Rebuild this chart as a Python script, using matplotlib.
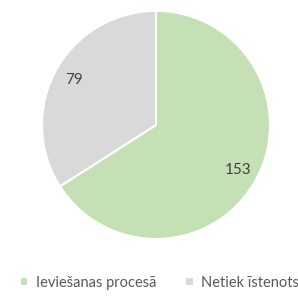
import matplotlib
matplotlib.use("Agg")
import matplotlib.pyplot as plt

# dati
kategorijas = ["Ieviešanas procesā", "Netiek īstenots"]
vertibas = [153, 79]
krasas = ["#C5E0B4", "#D9D9D9"]

plt.rcParams['font.family'] = ['Lato', 'DejaVu Sans']

fig = plt.figure(figsize=(2.98, 3.04), dpi=100)
ax = fig.add_axes([0.141, 0.214, 0.765, 0.75])

kopa = sum(vertibas)
wedges, texts, autotexts = ax.pie(
    vertibas, colors=krasas, startangle=90, counterclock=False,
    autopct=lambda p: "{}".format(int(round(p * kopa / 100))),
    pctdistance=0.82,
    wedgeprops=dict(edgecolor="white", linewidth=1.5),
    textprops=dict(color="#404040", fontsize=11))
ax.set_xlim(-1, 1)
ax.set_ylim(-1, 1)
ax.set_aspect("equal")

fig.legend(wedges, kategorijas, loc="center", bbox_to_anchor=(0.535, 0.07),
           ncol=2, frameon=False, fontsize=10.5, handlelength=0.6,
           handleheight=0.6, handletextpad=0.5, columnspacing=2.0,
           labelcolor="#595959")

fig.savefig("out.png", dpi=100)
